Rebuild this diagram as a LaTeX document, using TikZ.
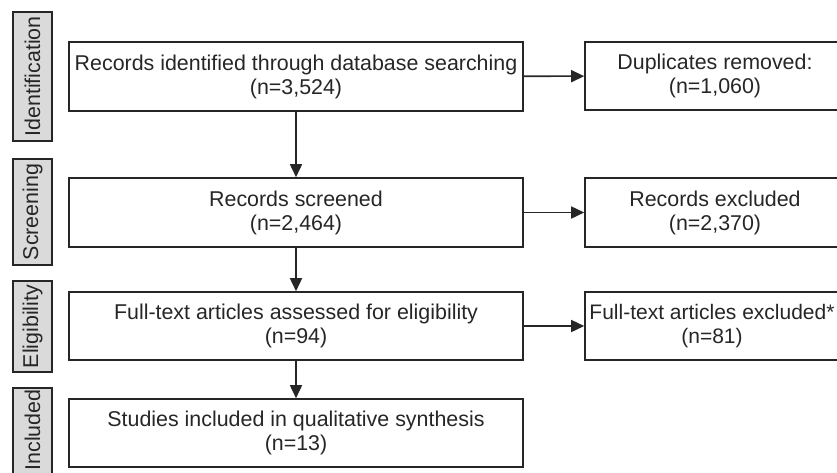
\documentclass[tikz,border=0pt]{standalone}
\usepackage{fontspec}
\setmainfont{Liberation Sans}
\usetikzlibrary{arrows.meta}
\definecolor{ink}{HTML}{262626}
\definecolor{sidefill}{HTML}{DADADA}
\tikzset{
  x=1pt, y=-1pt,
  boxtext/.style={font=\fontsize{21.4}{24}\selectfont, text=ink, align=center},
  frame/.style={draw=ink, line width=1.6pt},
  sidebox/.style={draw=ink, line width=1.6pt, fill=sidefill},
  arr/.style={draw=ink, line width=1.6pt, -{Triangle[length=13pt,width=12pt]}},
}
\begin{document}
\begin{tikzpicture}
\useasboundingbox (0,0) rectangle (837,472);
% side labels
\draw[sidebox] (13,12) rectangle (52,141);
\node[boxtext, rotate=90] (sId) at (32.5,76.5) {Identification};
\draw[sidebox] (13,159) rectangle (52,265);
\node[boxtext, rotate=90] (sScr) at (32.5,212) {Screening};
\draw[sidebox] (13,281) rectangle (52,372);
\node[boxtext, rotate=90] (sEli) at (32.5,326.5) {Eligibility};
\draw[sidebox] (13,388) rectangle (52,490);
\node[boxtext, rotate=90] (sInc) at (32.5,430) {Included};
% main boxes
\node[frame, boxtext, minimum width=454pt, minimum height=69pt, inner sep=0pt] (id) at (296,76.5) {Records identified through database searching\\(n=3,524)};
\node[frame, boxtext, minimum width=454pt, minimum height=69pt, inner sep=0pt] (scr) at (296,212.5) {Records screened\\(n=2,464)};
\node[frame, boxtext, minimum width=454pt, minimum height=68pt, inner sep=0pt] (eli) at (296,326) {Full-text articles assessed for eligibility\\(n=94)};
\node[frame, boxtext, minimum width=454pt, minimum height=68pt, inner sep=0pt] (inc) at (296,433) {Studies included in qualitative synthesis\\(n=13)};
% right boxes
\node[frame, boxtext, minimum width=260pt, minimum height=68pt, inner sep=0pt] (dup) at (715,76) {Duplicates removed:\\(n=1,060)};
\node[frame, boxtext, minimum width=260pt, minimum height=69pt, inner sep=0pt] (rex) at (715,212.5) {Records excluded\\(n=2,370)};
\node[frame, boxtext, font=\fontsize{21}{24}\selectfont, minimum width=254pt, minimum height=68pt, inner sep=0pt] (fex) at (712,326) {Full-text articles excluded*\\(n=81)};
% arrows
\draw[arr] (id) -- (dup);
\draw[arr] (scr) -- (rex);
\draw[arr] (eli) -- (fex);
\draw[arr] (id) -- (scr);
\draw[arr] (scr) -- (eli);
\draw[arr] (eli) -- (inc);
\end{tikzpicture}
\end{document}
